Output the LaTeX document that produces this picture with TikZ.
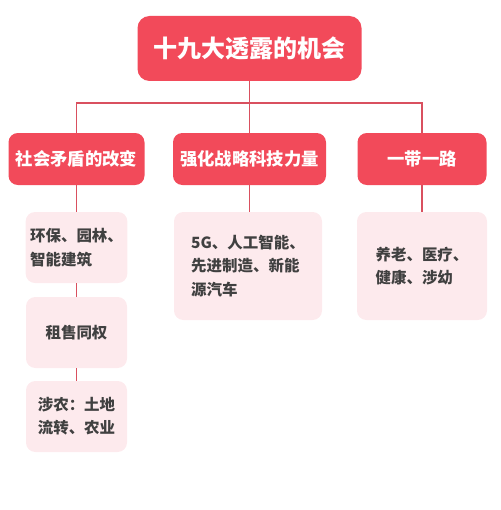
\documentclass[tikz,border=0pt]{standalone}
\usepackage{fontspec}
\setmainfont{Noto Sans CJK SC}
\usetikzlibrary{positioning}
\definecolor{headred}{HTML}{F24A5A}
\definecolor{leafpink}{HTML}{FDEAED}
\definecolor{linkred}{HTML}{D9505F}
\definecolor{leaftext}{HTML}{404040}

\begin{document}
\begin{tikzpicture}[x=0.75pt, y=-0.75pt,
    head/.style={fill=headred, rounded corners=7pt, text=white, minimum height=39pt, font=\fontsize{13}{15}\selectfont\bfseries},
    root/.style={head, minimum width=168pt, minimum height=48.75pt, rounded corners=9pt, font=\fontsize{18}{20}\selectfont\bfseries},
    leaf/.style={fill=leafpink, rounded corners=7pt, text=leaftext, align=left, minimum width=75.75pt, minimum height=53.25pt, font=\fontsize{11.6}{17.5}\selectfont\bfseries},
    link/.style={draw=linkred, line width=1.4pt}
  ]
    \useasboundingbox (0,0) rectangle (500,510);
    \node[root] (top) at (249.5,48.5) {十九大透露的机会};
    \node[head, minimum width=102pt] (soc) at (76.5,159) {社会矛盾的改变};
    \node[head, minimum width=114.75pt] (tech) at (249.5,159) {强化战略科技力量};
    \node[head, minimum width=96.75pt] (road) at (422,159) {一带一路};
    \coordinate (bus) at (249.5,103);
    % first column
    \node[leaf] (env) at (76.5,247.5) {环保、园林、\\智能建筑};
    \node[leaf] (rent) at (76.5,332.5) {租售同权};
    \node[leaf] (farm) at (76.5,416.5) {涉农：土地\\流转、农业};
    % other columns
    \node[leaf, minimum width=111pt, minimum height=81pt] (ind) at (248,266) {5G、人工智能、\\先进制造、新能\\源汽车};
    \node[leaf, minimum width=97.5pt, minimum height=81pt] (care) at (422,266) {养老、医疗、\\健康、涉幼};
    \draw[link] (top) -- (tech);
    \draw[link] (soc) |- (bus) -| (road);
    \draw[link] (soc) -- (env);
    \draw[link] (env) -- (rent);
    \draw[link] (rent) -- (farm);
    \draw[link] (tech.south) -- (tech.south |- ind.north);
    \draw[link] (road) -- (care);
  \end{tikzpicture}
\end{document}
